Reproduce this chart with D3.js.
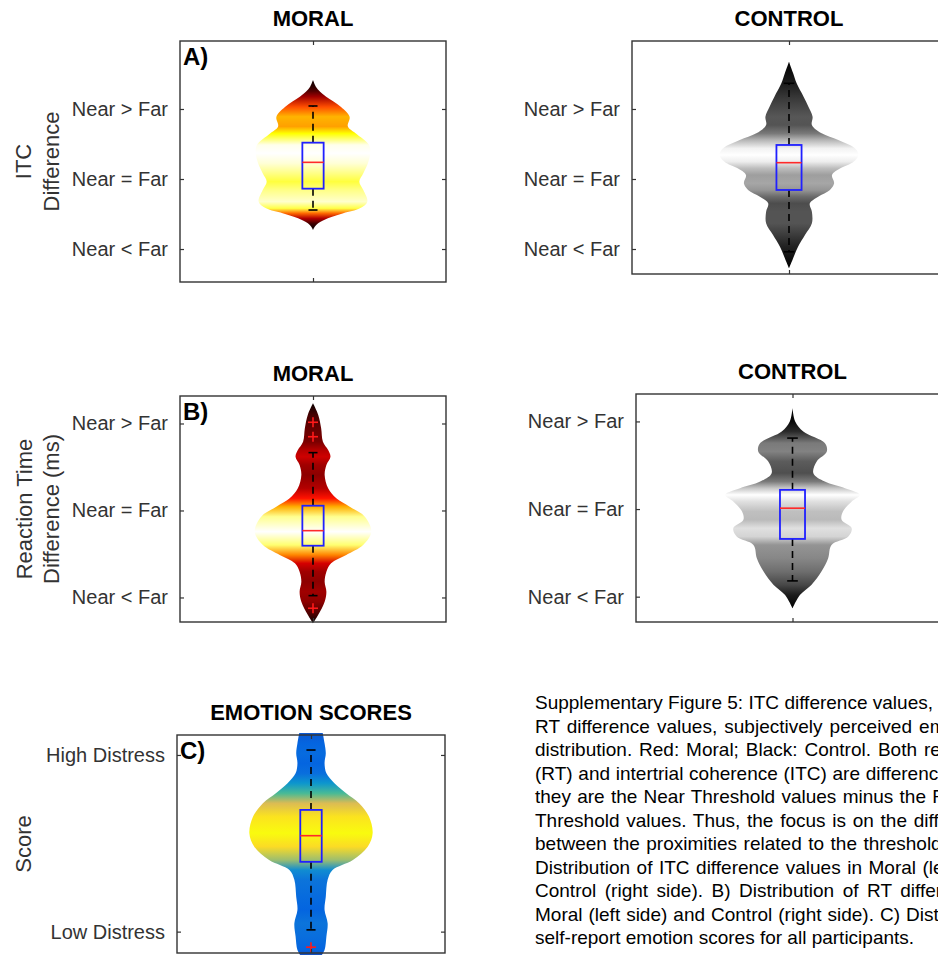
<!DOCTYPE html>
<html>
<head>
<meta charset="utf-8">
<script src="https://cdn.jsdelivr.net/npm/d3@7"></script>
<style>
body { margin: 0; background: #fff; }
svg { display: block; font-family: Arial, "Liberation Sans", sans-serif; }
</style>
</head>
<body>
<div id="chart"></div>
<script>
// ---------- data ----------
const nearFarTicks = [-1, 0, 1];
const nearFarLabels = ["Near < Far", "Near = Far", "Near > Far"];
const distressTicks = [0, 1];
const distressLabels = ["Low Distress", "High Distress"];

// A) ITC difference, moral
const itcMoralValues = [1.414, 1.319, 1.25, 1.176, 1.03, 0.89, 0.75, 0.65, 0.486, 0.367, 0.224, 0.081, -0.038, -0.157, -0.324, -0.419, -0.49, -0.562, -0.633, -0.681, -0.729];
const itcMoralDensity = [0, 0.05, 0.12, 0.23, 0.49, 0.64, 0.61, 0.75, 0.98, 1.0, 0.96, 0.88, 0.81, 0.88, 0.95, 0.82, 0.53, 0.26, 0.09, 0.03, 0];
const itcMoralQuartiles = [-0.138, 0.238, 0.519];
const itcMoralWhiskers = [-0.443, 1.043];
const itcMoralOutliers = [];

// A) ITC difference, control
const itcControlValues = [1.676, 1.51, 1.367, 1.176, 1.033, 0.89, 0.771, 0.652, 0.557, 0.438, 0.343, 0.247, 0.152, 0.057, -0.062, -0.157, -0.252, -0.348, -0.467, -0.633, -0.8, -0.967, -1.157, -1.276];
const itcControlDensity = [0, 0.06, 0.11, 0.21, 0.28, 0.34, 0.33, 0.47, 0.71, 0.95, 1.0, 0.93, 0.74, 0.62, 0.65, 0.59, 0.42, 0.30, 0.33, 0.33, 0.23, 0.13, 0.05, 0];
const itcControlQuartiles = [-0.157, 0.233, 0.486];
const itcControlWhiskers = [-1.04, 1.367];
const itcControlOutliers = [];

// B) RT difference, moral
const rtMoralValues = [1.232, 1.098, 0.945, 0.791, 0.695, 0.618, 0.523, 0.408, 0.255, 0.14, 0.044, -0.071, -0.244, -0.397, -0.511, -0.607, -0.703, -0.818, -0.933, -1.048, -1.2, -1.297];
const rtMoralDensity = [0, 0.09, 0.14, 0.17, 0.26, 0.30, 0.23, 0.20, 0.26, 0.40, 0.63, 0.89, 1.0, 0.86, 0.57, 0.31, 0.23, 0.20, 0.23, 0.20, 0.09, 0];
const rtMoralQuartiles = [-0.405, -0.232, 0.055];
const rtMoralWhiskers = [-0.979, 0.665];
const rtMoralOutliers = [1.014, 0.848, -1.124];

// B) RT difference, control
const rtControlValues = [1.153, 1.0, 0.886, 0.753, 0.657, 0.543, 0.41, 0.314, 0.238, 0.162, 0.086, -0.029, -0.123, -0.218, -0.314, -0.41, -0.561, -0.714, -0.866, -0.981, -1.133];
const rtControlDensity = [0, 0.04, 0.16, 0.48, 0.51, 0.36, 0.31, 0.48, 0.78, 1.0, 0.88, 0.75, 0.73, 0.88, 0.83, 0.58, 0.53, 0.43, 0.28, 0.11, 0];
const rtControlQuartiles = [-0.341, 0.01, 0.219];
const rtControlWhiskers = [-0.82, 0.81];
const rtControlOutliers = [];

// C) emotion scores
const emotionValues = [1.125, 1.066, 1.01, 0.953, 0.896, 0.84, 0.783, 0.727, 0.651, 0.557, 0.481, 0.406, 0.349, 0.293, 0.198, 0.123, 0.048, -0.028, -0.104, -0.14];
const emotionDensity = [0.19, 0.22, 0.24, 0.22, 0.25, 0.38, 0.57, 0.78, 0.94, 1.0, 0.92, 0.68, 0.35, 0.27, 0.24, 0.22, 0.27, 0.25, 0.22, 0.16];
const emotionQuartiles = [0.395, 0.543, 0.689];
const emotionWhiskers = [0.01, 1.028];
const emotionOutliers = [-0.088];

const captionLines = [
    "Supplementary Figure 5: ITC difference values, RT",
    "RT difference values, subjectively perceived emotion",
    "distribution. Red: Moral; Black: Control. Both reaction",
    "(RT) and intertrial coherence (ITC) are difference values:",
    "they are the Near Threshold values minus the Far",
    "Threshold values. Thus, the focus is on the difference",
    "between the proximities related to the threshold. A)",
    "Distribution of ITC difference values in Moral (left side) and",
    "Control (right side). B) Distribution of RT difference values in",
    "Moral (left side) and Control (right side). C) Distribution of",
    "self-report emotion scores for all participants."
];

// ---------- layout ----------
const width = 938;
const height = 956;

// justified caption: [number of words, x where the last of them ends]
const captionJustify = [[6, 933], [5, 912], [6, 917], [6, 860], [8, 926], [8, 907], [6, 857], [7, 916], [7, 892], [8, 900], null];

// colour maps
const cmapHot = d3.scaleLinear().domain([0, 0.375, 0.75, 1]).range(["#0a0000", "#ff0000", "#ffff00", "#ffffff"]).clamp(true);
const cmapGray = d3.scaleLinear().domain([0, 1]).range(["#000000", "#ffffff"]).clamp(true);
const parulaStops = ["#352a87", "#0363e1", "#1485d4", "#06a7c6", "#38b99e", "#92bf73", "#d9ba56", "#fcce2e", "#f9fb0e"];
const cmapParula = d3.scaleLinear()
    .domain(parulaStops.map((c, i) => 0.1 + 0.9 * i / (parulaStops.length - 1)))
    .range(parulaStops).clamp(true);

const panels = [
    { id: "itcMoral", title: "MORAL", letter: "A)", left: 180, right: 446, top: 41, bottom: 282, ylim: [-1.471, 1.971],
      ticks: nearFarTicks, labels: nearFarLabels, values: itcMoralValues, density: itcMoralDensity,
      quartiles: itcMoralQuartiles, whiskers: itcMoralWhiskers, outliers: itcMoralOutliers, cmap: cmapHot, half: 0.215,
      ytitle: ["ITC", "Difference"], ytitleX: [31, 59] },
    { id: "itcControl", title: "CONTROL", left: 632, right: 946, top: 41, bottom: 274, ylim: [-1.357, 1.971],
      ticks: nearFarTicks, labels: nearFarLabels, values: itcControlValues, density: itcControlDensity,
      quartiles: itcControlQuartiles, whiskers: itcControlWhiskers, outliers: itcControlOutliers, cmap: cmapGray, half: 0.221 },
    { id: "rtMoral", title: "MORAL", letter: "B)", left: 180, right: 446, top: 396, bottom: 622, ylim: [-1.282, 1.316],
      ticks: nearFarTicks, labels: nearFarLabels, values: rtMoralValues, density: rtMoralDensity,
      quartiles: rtMoralQuartiles, whiskers: rtMoralWhiskers, outliers: rtMoralOutliers, cmap: cmapHot, half: 0.219,
      ytitle: ["Reaction Time", "Difference (ms)"], ytitleX: [32, 59] },
    { id: "rtControl", title: "CONTROL", left: 636, right: 949, top: 394, bottom: 622, ylim: [-1.289, 1.313],
      ticks: nearFarTicks, labels: nearFarLabels, values: rtControlValues, density: rtControlDensity,
      quartiles: rtControlQuartiles, whiskers: rtControlWhiskers, outliers: rtControlOutliers, cmap: cmapGray, half: 0.215 },
    { id: "emotion", title: "EMOTION SCORES", letter: "C)", left: 177, right: 445, top: 735, bottom: 953, ylim: [-0.121, 1.113],
      ticks: distressTicks, labels: distressLabels, values: emotionValues, density: emotionDensity,
      quartiles: emotionQuartiles, whiskers: emotionWhiskers, outliers: emotionOutliers, cmap: cmapParula, half: 0.23,
      ytitle: ["Score"], ytitleX: [31] }
];

const svg = d3.select("#chart").append("svg")
    .attr("width", width)
    .attr("height", height);

const defs = svg.append("defs");
const axisColor = "#333333";

function drawPanel(p)
{
    const x = d3.scaleLinear().domain([0.5, 1.5]).range([p.left, p.right]);
    const y = d3.scaleLinear().domain(p.ylim).range([p.bottom, p.top]);
    const g = svg.append("g").attr("class", "panel-" + p.id);

    // clip to the axes box
    defs.append("clipPath").attr("id", "clip-" + p.id)
        .append("rect")
        .attr("x", p.left).attr("y", p.top - 2)
        .attr("width", p.right - p.left).attr("height", p.bottom - p.top + 4);

    // violin, coloured by density
    const pts = p.values.map((v, i) => ({ v: v, d: p.density[i] }));
    const y0 = y(pts[0].v);
    const y1 = y(pts[pts.length - 1].v);
    const grad = defs.append("linearGradient")
        .attr("id", "grad-" + p.id)
        .attr("gradientUnits", "userSpaceOnUse")
        .attr("x1", 0).attr("x2", 0)
        .attr("y1", y0).attr("y2", y1);
    grad.selectAll("stop")
        .data(pts)
        .enter()
        .append("stop")
        .attr("offset", d => (y(d.v) - y0) / (y1 - y0))
        .attr("stop-color", d => p.cmap(d.d));

    const area = d3.area()
        .curve(d3.curveCatmullRom)
        .y(d => y(d.v))
        .x0(d => x(1 - p.half * d.d))
        .x1(d => x(1 + p.half * d.d));

    g.append("path")
        .datum(pts)
        .attr("d", area)
        .attr("fill", "url(#grad-" + p.id + ")")
        .attr("clip-path", "url(#clip-" + p.id + ")");

    // box plot
    const boxHalf = 0.04;
    const capHalf = 0.017;
    const [q1, med, q3] = p.quartiles;
    const [wLow, wHigh] = p.whiskers;

    g.selectAll("line.whisker")
        .data([[q3, wHigh], [q1, wLow]])
        .enter()
        .append("line")
        .attr("class", "whisker")
        .attr("x1", x(1)).attr("x2", x(1))
        .attr("y1", d => y(d[0])).attr("y2", d => y(d[1]))
        .attr("stroke", "#000")
        .attr("stroke-width", 1.6)
        .attr("stroke-dasharray", "7,5");

    g.selectAll("line.cap")
        .data([wLow, wHigh])
        .enter()
        .append("line")
        .attr("class", "cap")
        .attr("x1", x(1 - capHalf)).attr("x2", x(1 + capHalf))
        .attr("y1", d => y(d)).attr("y2", d => y(d))
        .attr("stroke", "#000")
        .attr("stroke-width", 1.6);

    g.append("rect")
        .attr("x", x(1 - boxHalf))
        .attr("y", y(q3))
        .attr("width", x(1 + boxHalf) - x(1 - boxHalf))
        .attr("height", y(q1) - y(q3))
        .attr("fill", "none")
        .attr("stroke", "#2020ff")
        .attr("stroke-width", 1.8);

    g.append("line")
        .attr("x1", x(1 - boxHalf)).attr("x2", x(1 + boxHalf))
        .attr("y1", y(med)).attr("y2", y(med))
        .attr("stroke", "#ff2a2a")
        .attr("stroke-width", 1.6);

    const plus = g.selectAll("g.outlier")
        .data(p.outliers)
        .enter()
        .append("g")
        .attr("class", "outlier")
        .attr("transform", d => "translate(" + x(1) + "," + y(d) + ")");
    plus.append("line").attr("x1", -5).attr("x2", 5).attr("y1", 0).attr("y2", 0);
    plus.append("line").attr("x1", 0).attr("x2", 0).attr("y1", -5).attr("y2", 5);
    plus.selectAll("line").attr("stroke", "#ff1a1a").attr("stroke-width", 1.6);

    // axes box and ticks (inward on all four sides)
    g.append("rect")
        .attr("x", p.left).attr("y", p.top)
        .attr("width", p.right - p.left).attr("height", p.bottom - p.top)
        .attr("fill", "none")
        .attr("stroke", axisColor)
        .attr("stroke-width", 1.4);

    const tickLen = 4;
    g.append("g")
        .attr("transform", "translate(" + p.left + ",0)")
        .call(d3.axisLeft(y).tickValues(p.ticks).tickSize(-tickLen).tickFormat((d, i) => p.labels[i]).tickPadding(12))
        .call(ax => ax.select(".domain").remove())
        .call(ax => ax.selectAll("line").attr("stroke", axisColor).attr("stroke-width", 1.2))
        .call(ax => ax.selectAll("text").attr("fill", "#333").style("font-size", "20px").style("font-family", "Arial, 'Liberation Sans', sans-serif"));

    g.append("g")
        .attr("transform", "translate(" + p.right + ",0)")
        .call(d3.axisRight(y).tickValues(p.ticks).tickSize(-tickLen).tickFormat(""))
        .call(ax => ax.select(".domain").remove())
        .call(ax => ax.selectAll("line").attr("stroke", axisColor).attr("stroke-width", 1.2));

    g.append("g")
        .attr("transform", "translate(0," + p.bottom + ")")
        .call(d3.axisBottom(x).tickValues([1]).tickSize(-tickLen).tickFormat(""))
        .call(ax => ax.select(".domain").remove())
        .call(ax => ax.selectAll("line").attr("stroke", axisColor).attr("stroke-width", 1.2));

    g.append("g")
        .attr("transform", "translate(0," + p.top + ")")
        .call(d3.axisTop(x).tickValues([1]).tickSize(-tickLen).tickFormat(""))
        .call(ax => ax.select(".domain").remove())
        .call(ax => ax.selectAll("line").attr("stroke", axisColor).attr("stroke-width", 1.2));

    // title
    g.append("text")
        .attr("x", (p.left + p.right) / 2)
        .attr("y", p.top - 15)
        .attr("text-anchor", "middle")
        .style("font-size", "22px")
        .style("font-weight", "bold")
        .attr("fill", "#000")
        .text(p.title);

    // panel letter
    if (p.letter)
    {
        g.append("text")
            .attr("x", p.left + 3)
            .attr("y", p.top + 24)
            .style("font-size", "24px")
            .style("font-weight", "bold")
            .attr("fill", "#000")
            .text(p.letter);
    }

    // y axis title (rotated, one or two lines)
    if (p.ytitle)
    {
        const cy = (p.top + p.bottom) / 2;
        p.ytitle.forEach(function(line, i)
        {
            g.append("text")
                .attr("transform", "translate(" + p.ytitleX[i] + "," + cy + ") rotate(-90)")
                .attr("text-anchor", "middle")
                .style("font-size", "22px")
                .attr("fill", "#333")
                .text(line);
        });
    }
}

panels.forEach(drawPanel);

// ---------- caption (justified, cut by the right page edge) ----------
const capX = 535;
const capY = 709;
const capStep = 23.5;
const caption = svg.append("g")
    .style("font-size", "19px")
    .attr("fill", "#000");

captionLines.forEach(function(line, i)
{
    const t = caption.append("text")
        .attr("x", capX)
        .attr("y", capY + i * capStep)
        .attr("xml:space", "preserve");
    const just = captionJustify[i];
    if (just)
    {
        const words = line.split(" ");
        const head = words.slice(0, just[0]).join(" ");
        t.text(head);
        const natural = t.node().getComputedTextLength();
        const extra = (just[1] - capX - natural) / (just[0] - 1);
        t.style("word-spacing", extra + "px");
    }
    t.text(line);
});
</script>
</body>
</html>
